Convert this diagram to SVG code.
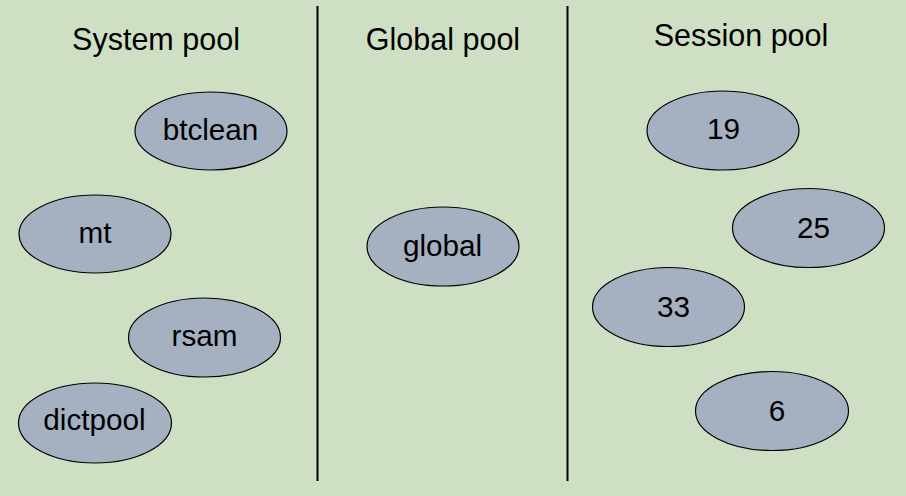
<svg xmlns="http://www.w3.org/2000/svg" width="906" height="496" viewBox="0 0 906 496">
<style>
.n ellipse{fill:#A5B1C1;stroke:#000;stroke-width:1.2}
text{font-family:"Liberation Sans",Arial,sans-serif;font-size:29.7px;fill:#000;text-anchor:middle}
.t{font-size:30.5px}
.div{stroke:#000;stroke-width:2}
</style>
<rect x="0" y="0" width="906" height="496" fill="#CFDFC4"/>
<g id="dividers">
<line class="div" x1="317.5" y1="6" x2="317.5" y2="481"/>
<line class="div" x1="567.5" y1="6" x2="567.5" y2="481"/>
</g>
<g id="titles">
<text class="t" x="156" y="50">System pool</text>
<text class="t" x="443" y="50">Global pool</text>
<text class="t" x="741" y="45.5">Session pool</text>
</g>
<g id="node-btclean" class="n"><ellipse cx="211" cy="131" rx="76" ry="39"/><text x="210.5" y="139.5">btclean</text></g>
<g id="node-mt" class="n"><ellipse cx="95" cy="234" rx="76" ry="39"/><text x="95" y="243">mt</text></g>
<g id="node-rsam" class="n"><ellipse cx="204.5" cy="337.5" rx="76" ry="39.5"/><text x="204.5" y="345.5">rsam</text></g>
<g id="node-dictpool" class="n"><ellipse cx="95" cy="423" rx="76.5" ry="40"/><text x="94.5" y="429.5">dictpool</text></g>
<g id="node-global" class="n"><ellipse cx="443" cy="246.5" rx="76" ry="39.5"/><text x="442.5" y="255.5">global</text></g>
<g id="node-19" class="n"><ellipse cx="723" cy="130.5" rx="76" ry="39.5"/><text x="723.5" y="139">19</text></g>
<g id="node-25" class="n"><ellipse cx="808.5" cy="228" rx="76" ry="39.5"/><text x="813.5" y="237.5">25</text></g>
<g id="node-33" class="n"><ellipse cx="668.5" cy="307" rx="76" ry="39.5"/><text x="673.5" y="316.5">33</text></g>
<g id="node-6" class="n"><ellipse cx="772" cy="411" rx="76.5" ry="39.5"/><text x="777" y="420.5">6</text></g>
<g id="connectors"/>
</svg>
